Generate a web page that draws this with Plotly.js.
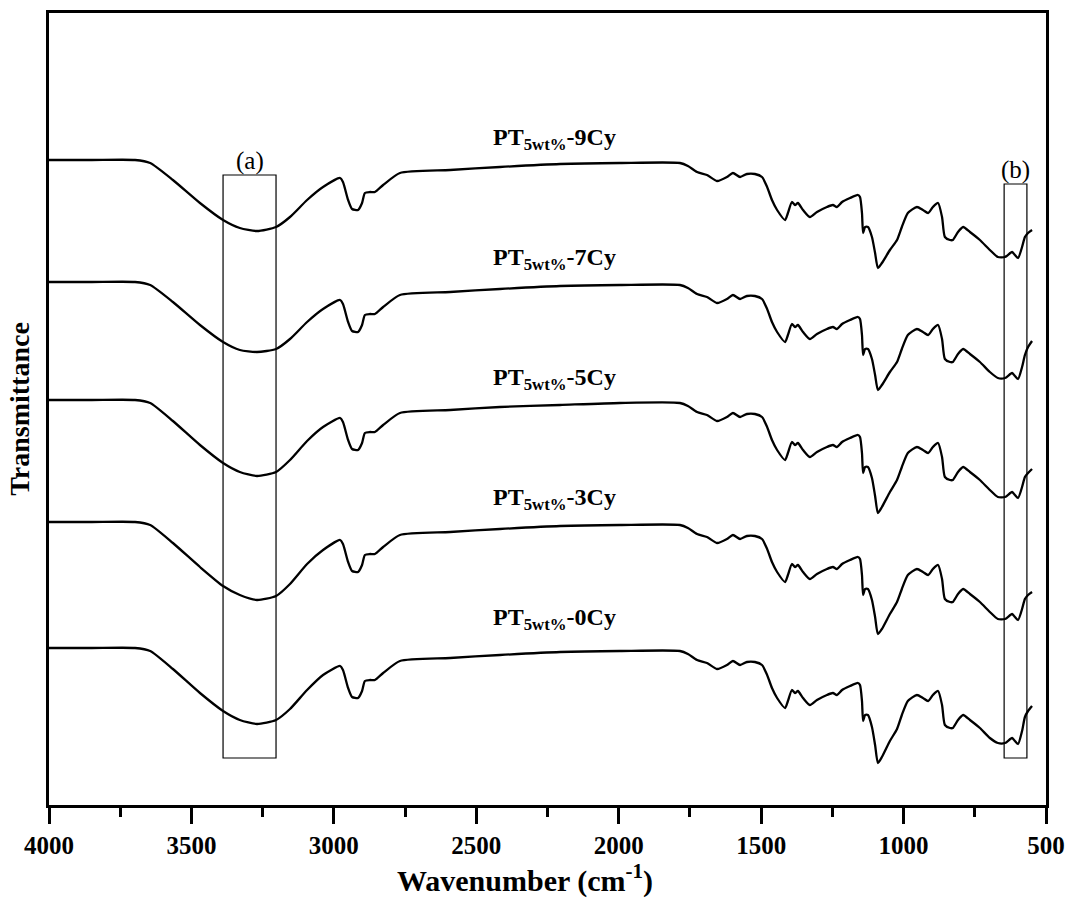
<!DOCTYPE html>
<html>
<head>
<meta charset="utf-8">
<script src="https://cdn.plot.ly/plotly-3.0.1.min.js"></script>
<style>html,body{margin:0;padding:0;background:#fff;}#chart{width:1068px;height:898px;}</style>
</head>
<body>
<div id="chart"></div>
<script>
// Wavenumber (cm^-1)
const wavenumber = [4000,3850,3698,3645,3565,3470,3389,3330,3270,3203,3154,3094,3038,2978,2968,2950,2936,2915,2901,2891,2873,2856,2827,2768,2592,2417,2206,1996,1785,1757,1725,1690,1655,1620,1599,1574,1550,1522,1497,1479,1462,1444,1416,1406,1392,1381,1371,1353,1329,1304,1269,1248,1234,1216,1188,1160,1153,1146,1142,1135,1125,1111,1100,1090,1076,1048,1023,1006,985,953,932,914,897,879,865,855,837,827,809,791,767,732,697,669,644,619,609,598,584,574,563,549];

// Offset transmittance (a.u.)
const pt9Cy = [645,645,645,642,625,602,585,577,574,578,588,605,618,627,623,605,596,595,602,612,613,613,620,632,635,638,641,642,642,639,633,630,624,628,632,628,631,631,628,618,605,595,585,592,603,600,602,595,588,593,598,600,598,603,607,610,608,592,572,578,578,568,552,537,542,555,565,578,592,598,595,592,598,602,588,568,565,565,573,578,573,565,555,548,548,553,550,547,558,568,572,575];
const pt7Cy = [523,523,523,520,503,480,463,455,453,456,466,483,496,505,501,483,474,473,480,490,491,491,498,510,513,516,519,520,520,517,511,508,502,506,510,506,509,509,506,496,483,473,463,470,481,478,480,473,466,471,476,478,476,481,485,488,486,470,450,456,456,446,430,415,420,433,443,456,470,476,473,470,476,480,466,446,443,443,451,456,451,443,433,427,427,432,429,426,438,450,458,464];
const pt5Cy = [405,405,405,402,384,360,342,333,329,333,345,364,378,387,383,365,356,355,362,372,373,373,380,392,395,398,400,402,402,399,393,390,384,388,392,388,391,391,388,378,365,355,345,352,363,360,362,355,348,353,358,360,358,363,367,370,368,352,332,338,338,327,309,292,298,313,325,338,352,358,355,352,358,362,348,328,325,325,333,338,333,325,315,308,308,313,310,307,318,328,332,336];
const pt3Cy = [283,283,283,280,262,238,219,210,205,209,221,241,255,265,261,243,234,233,240,250,251,251,258,270,273,276,279,280,280,277,271,268,262,266,270,266,269,269,266,256,243,233,223,230,241,238,240,233,226,231,236,238,236,241,245,248,246,230,210,216,216,205,188,171,176,191,203,216,230,236,233,230,236,240,226,206,203,203,211,216,211,203,193,186,186,191,188,185,196,206,210,213];
const pt0Cy = [157,157,157,154,136,112,94,85,81,85,96,115,130,139,135,117,108,107,114,124,125,125,132,144,147,150,153,154,154,151,145,142,136,140,144,140,143,143,140,130,117,107,97,104,115,112,114,107,100,105,110,112,110,115,119,122,120,104,84,90,90,78,60,42,48,64,76,90,104,110,107,104,110,114,100,80,77,77,85,90,85,77,67,62,62,67,64,61,74,88,94,99];

const seriesNames = ['PT5wt%-9Cy','PT5wt%-7Cy','PT5wt%-5Cy','PT5wt%-3Cy','PT5wt%-0Cy'];
const seriesData = [pt9Cy, pt7Cy, pt5Cy, pt3Cy, pt0Cy];
const labelTexts = ['<b>PT<sub>5wt%</sub>-9Cy</b>','<b>PT<sub>5wt%</sub>-7Cy</b>','<b>PT<sub>5wt%</sub>-5Cy</b>','<b>PT<sub>5wt%</sub>-3Cy</b>','<b>PT<sub>5wt%</sub>-0Cy</b>'];
const labelY = [666, 546, 426, 306, 186];
const labelX = 2225;

// Highlight boxes (wavenumber ranges) and their labels
const boxA = {x0: 3389, x1: 3203, y0: 47, y1: 630, label: '(a)'};
const boxB = {x0: 647, x1: 567, y0: 47, y1: 621, label: '(b)'};

const serif = 'Liberation Serif, Times New Roman, serif';

const traces = seriesData.map((ys, i) => ({
  x: wavenumber, y: ys, type: 'scatter', mode: 'lines', name: seriesNames[i],
  line: {color: '#000', width: 2.3, shape: 'spline', smoothing: 0.6},
  hoverinfo: 'x+y+name'
}));

const annotations = labelTexts.map((t, i) => ({
  x: labelX, y: labelY[i], xref: 'x', yref: 'y', text: t, showarrow: false,
  font: {family: serif, size: 24, color: '#000'}, xanchor: 'center', yanchor: 'middle'
}));
[boxA, boxB].forEach(b => annotations.push({
  x: (b.x0 + b.x1) / 2, y: b.y1, xref: 'x', yref: 'y', text: b.label, showarrow: false,
  font: {family: serif, size: 25, color: '#000'}, xanchor: 'center', yanchor: 'bottom', yshift: -2
}));

const shapes = [boxA, boxB].map(b => ({
  type: 'rect', xref: 'x', yref: 'y', x0: b.x0, x1: b.x1, y0: b.y0, y1: b.y1,
  line: {color: '#000', width: 1.2}, fillcolor: 'rgba(0,0,0,0)'
}));

const layout = {
  width: 1068, height: 898,
  margin: {l: 49, r: 22, t: 13, b: 93},
  paper_bgcolor: '#fff', plot_bgcolor: '#fff',
  showlegend: false,
  font: {family: serif, color: '#000'},
  xaxis: {
    range: [4000, 500], dtick: 500, tick0: 500,
    showline: true, mirror: true, linecolor: '#000', linewidth: 3,
    ticks: 'outside', ticklen: 16, tickwidth: 2.5, tickcolor: '#000',
    minor: {dtick: 250, tick0: 500, ticks: 'outside', ticklen: 9, tickwidth: 2.5, tickcolor: '#000', showgrid: false},
    showgrid: false, zeroline: false,
    tickfont: {family: serif, size: 25, weight: 'bold', color: '#000'},
    title: {text: 'Wavenumber (cm<sup>-1</sup>)&nbsp;&nbsp;&nbsp;&nbsp;&nbsp;&nbsp;', font: {family: serif, size: 30, weight: 'bold', color: '#000'}, standoff: 10}
  },
  yaxis: {
    range: [0, 792],
    showline: true, mirror: true, linecolor: '#000', linewidth: 3,
    ticks: '', showticklabels: false, showgrid: false, zeroline: false,
    title: {text: 'Transmittance', font: {family: serif, size: 28, weight: 'bold', color: '#000'}, standoff: 9}
  },
  annotations: annotations,
  shapes: shapes
};

Plotly.newPlot('chart', traces, layout, {displayModeBar: false, staticPlot: false});
</script>
</body>
</html>
